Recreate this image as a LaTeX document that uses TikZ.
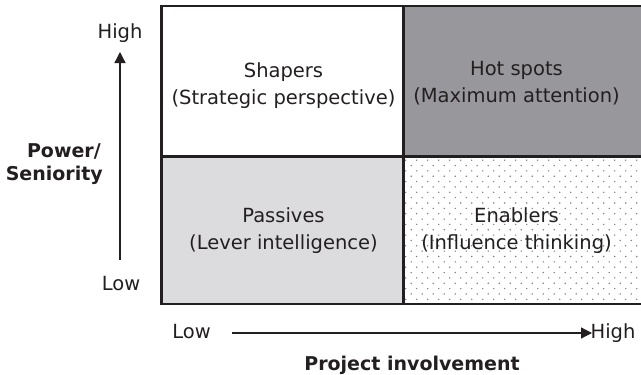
\documentclass[tikz,border=0pt]{standalone}
\usepackage{fontspec}
\setmainfont{DejaVu Sans}
\usetikzlibrary{arrows.meta}
\definecolor{ink}{RGB}{35,31,32}
\definecolor{hot}{RGB}{152,152,156}
\definecolor{pas}{RGB}{220,220,222}
\definecolor{dotc}{RGB}{130,130,130}
\begin{document}
\begin{tikzpicture}[x=1pt,y=-1pt,
  lbl/.style={font=\fontsize{19.5}{23}\selectfont, text=ink, inner sep=0pt, anchor=base},
  blbl/.style={lbl, font=\fontsize{19}{23}\selectfont\bfseries},
  grid/.style={draw=ink, line width=2.6pt},
  axis/.style={draw=ink, line width=1.3pt, -{Triangle[length=11pt,width=11pt]}}]
\useasboundingbox (0,0) rectangle (641,375);
\fill[white] (0,0) rectangle (641,375);
% quadrant fills
\fill[pas] (161.5,156.5) rectangle (403.5,304);
\fill[hot] (403.5,6) rectangle (645,156.5);
\begin{scope}
  \clip (404.8,157.8) rectangle (645,302.7);
  \foreach \r in {0,...,26}{
    \foreach \c in {0,...,23}{
      \fill[dotc] ({636.7 - 11*\c + 5.5*mod(\r,2)}, {299.3-5.35*\r}) circle (0.8pt);
    }
  }
\end{scope}
% grid lines
\draw[grid] (161.5,6) rectangle (645,304);
\draw[grid] (403.5,6) -- (403.5,304);
\draw[grid] (161.5,156.5) -- (645,156.5);
% quadrant texts
\node[lbl] (shA) at (283.5,77) {Shapers};
\node[lbl] (shB) at (283.5,104) {(Strategic perspective)};
\node[lbl] (hsA) at (516.5,75) {Hot spots};
\node[lbl] (hsB) at (516.5,102) {(Maximum attention)};
\node[lbl] (paA) at (283.5,222) {Passives};
\node[lbl] (paB) at (283.5,249) {(Lever intelligence)};
\node[lbl] (enA) at (516.5,222) {Enablers};
\node[lbl] (enB) at (516.5,249) {(Influence thinking)};
% vertical axis
\node[lbl] (yhigh) at (120,38) {High};
\node[lbl] (ylow) at (121,290) {Low};
\coordinate (ylo) at (120,260);
\coordinate (yhi) at (120,52);
\draw[axis] (ylo) -- (yhi);
\node[blbl, anchor=base east] (pow) at (101,157) {Power/};
\node[blbl, anchor=base east] (sen) at (103,180) {Seniority};
% horizontal axis
\node[lbl] (xlow) at (191.5,338) {Low};
\node[lbl] (xhigh) at (613,338) {High};
\coordinate (xlo) at (232,333);
\coordinate (xhi) at (592,333);
\draw[axis] (xlo) -- (xhi);
\node[blbl] (proj) at (412,370) {Project involvement};
\end{tikzpicture}
\end{document}
